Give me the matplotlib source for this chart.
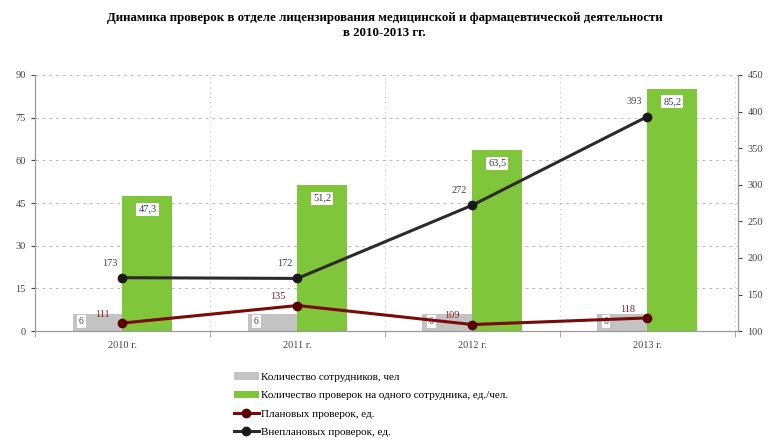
import matplotlib.pyplot as plt
import numpy as np

plt.rcParams['font.family'] = ['Liberation Serif', 'DejaVu Serif']

years = ["2010 г.", "2011 г.", "2012 г.", "2013 г."]
staff = [6, 6, 6, 6]
per_staff = [47.3, 51.2, 63.5, 85.2]
planned = [111, 135, 109, 118]
unplanned = [173, 172, 272, 393]

green = "#7fc63a"
gray = "#c3c3c3"
red = "#7a0a0a"
dark = "#2b2b2b"

fig = plt.figure(figsize=(7.69, 4.38), dpi=100)
ax = fig.add_axes([0.0455, 0.244, 0.9145, 0.585])
ax2 = ax.twinx()

x = np.arange(len(years))
w = 0.285
ax.bar(x - w / 2, staff, w, color=gray, label="Количество сотрудников, чел", zorder=2)
ax.bar(x + w / 2, per_staff, w, color=green,
       label="Количество проверок на одного сотрудника, ед./чел.", zorder=2)

box = dict(boxstyle="square,pad=0.2", fc="white", ec="none")
for xi, v in zip(x, staff):
    ax.text(xi - w + 0.05, v - 2.6, str(v), fontsize=7, color="#444444",
            ha="center", va="center", bbox=box, zorder=5)
for xi, v in zip(x, per_staff):
    ax.text(xi + w / 2, v - 4.5, str(v).replace(".", ","), fontsize=7.5,
            color="#333366", ha="center", va="center", bbox=box, zorder=5)

ax2.plot(x, planned, color=red, lw=2.2, marker="o", ms=6,
         mfc="#5a0000", mec="#5a0000", label="Плановых проверок, ед.", zorder=4)
ax2.plot(x, unplanned, color=dark, lw=2.2, marker="o", ms=6,
         mfc="#1a1a1a", mec="#1a1a1a", label="Внеплановых проверок, ед.", zorder=4)
for xi, v in zip(x, planned):
    ax2.text(xi - 0.07, v + 12, str(v), fontsize=7.5, color="#8b2020",
             ha="right", va="center")
for xi, v in zip(x, unplanned):
    ax2.text(xi - 0.03, v + 20, str(v), fontsize=7.5, color="#444444",
             ha="right", va="center")

ax.set_xlim(-0.5, 3.52)
ax.set_ylim(0, 90)
ax2.set_ylim(100, 450)
ax.set_yticks(np.arange(0, 91, 15))
ax2.set_yticks(np.arange(100, 451, 50))
ax.set_xticks(x)
ax.set_xticklabels(years)
ax.set_xticks(np.arange(-0.5, 4, 1), minor=True)

ax.grid(True, axis="y", linestyle=(0, (3, 4)), color="#bbbbbb", lw=0.7, zorder=0)
ax.grid(True, axis="x", which="minor", linestyle=(0, (1, 4)), color="#bbbbbb", lw=0.7, zorder=0)
ax.set_axisbelow(True)

for a in (ax, ax2):
    a.tick_params(labelsize=7.5, colors="#444444", length=3)
    a.tick_params(axis="x", which="minor", length=4, color="#999999")
    for s in a.spines.values():
        s.set_color("#999999")
    a.spines["top"].set_visible(False)
ax.tick_params(axis="x", which="major", length=0, pad=7)

fig.text(0.5, 0.972, "Динамика проверок в отделе лицензирования медицинской и фармацевтической деятельности\nв 2010-2013 гг.",
         fontsize=9.3, fontweight="bold", ha="center", va="top", linespacing=1.25)

h1, l1 = ax.get_legend_handles_labels()
h2, l2 = ax2.get_legend_handles_labels()
fig.legend(h1 + h2, l1 + l2, loc="upper left", bbox_to_anchor=(0.298, 0.16),
           frameon=False, fontsize=8, handlelength=2.3, labelspacing=0.76,
           handletextpad=0.2, borderaxespad=0)

fig.savefig("out.png", dpi=100)
